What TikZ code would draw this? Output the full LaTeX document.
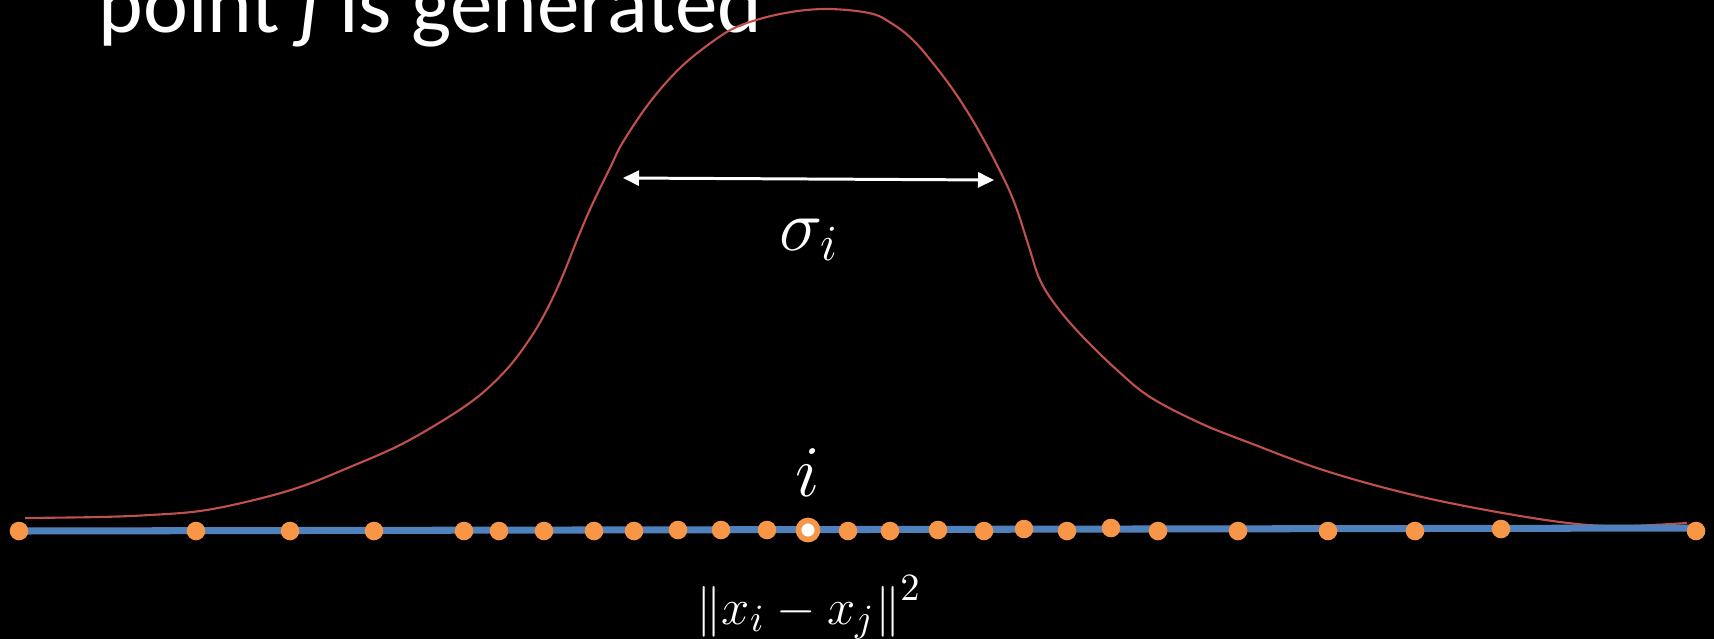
\documentclass[tikz,border=0pt]{standalone}
\usepackage{fontspec}
\setmainfont{Carlito}
\usetikzlibrary{arrows.meta}
\definecolor{curvered}{HTML}{C0504D}
\definecolor{lineblue}{HTML}{4F81BD}
\definecolor{dotorange}{HTML}{F79646}

\begin{document}
\begin{tikzpicture}[x=0.01cm, y=-0.01cm,
    sample/.style={circle, fill=dotorange, inner sep=0pt, minimum size=0.186cm},
    mathlabel/.style={text=white, inner sep=0pt, font=\fontsize{21pt}{25pt}\selectfont}]
  \useasboundingbox (0,0) rectangle (1714,639);
  \fill[black] (0,0) rectangle (1714,639);
  \clip (0,0) rectangle (1714,639);

  % title line, cut at the top
  \node[anchor=base west, inner sep=0pt, text=white, font=\fontsize{24.2pt}{28pt}\selectfont]
    (title) at (98,32) {point \textit{j} is generated};

  % density of neighbours
  \draw[curvered, line width=0.6pt] plot[smooth, tension=0.6] coordinates {
    (25,518) (100,517) (150,515) (200,511) (250,501) (300,487) (350,467)
    (400,445) (447,418) (480,395) (507,369) (527,343) (543,317) (560,282)
    (579,235) (592,205) (610,168) (623,142) (650,102) (680,68) (712,42)
    (739,26) (780,14) (824,9) (869,13) (891,23) (913,40) (936,67) (958,97)
    (980,133) (1003,177) (1016,207) (1029,247) (1040,280) (1057,307)
    (1083,337) (1117,370) (1150,397) (1200,423) (1250,443) (1323,470)
    (1405,493) (1486,510) (1568,523) (1623,526) (1687,523)};

  % width arrow
  \coordinate (sigL) at (623,178);
  \coordinate (sigR) at (994,180);
  \draw[white, line width=0.85pt, {Triangle[length=0.16cm, width=0.15cm]}-{Triangle[length=0.16cm, width=0.15cm]}]
    (sigL) -- (sigR);
  \node[mathlabel, anchor=base west] (sigma) at (779,250) {$\sigma_i$};

  % axis with the points
  \coordinate (lineL) at (18,531);
  \coordinate (lineR) at (1697,528);
  \draw[lineblue, line width=2pt] (lineL) -- (lineR);
  \foreach \x/\y [count=\n] in {19/531, 196/531, 290/531, 374/531, 464/531, 499/531,
      544/531, 594/531, 634/531, 678/530, 721/530, 767/530, 848/531, 890/531,
      938/530, 984/531, 1024/529, 1067/531, 1111/528, 1158/531, 1238/531,
      1328/531, 1415/531, 1501/529, 1696/531}
    \node[sample] (p\n) at (\x,\y) {};

  % the point i
  \node[circle, fill=white, draw=dotorange, line width=1.6pt, inner sep=0pt,
    minimum size=0.19cm] (pi) at (808,530) {};
  \node[mathlabel, anchor=base] (ilabel) at (808,496) {$i$};

  \node[text=white, inner sep=0pt, anchor=base, font=\fontsize{15.5pt}{19pt}\selectfont]
    (dist) at (809,624) {$\left\|x_i - x_j\right\|^2$};
\end{tikzpicture}
\end{document}
